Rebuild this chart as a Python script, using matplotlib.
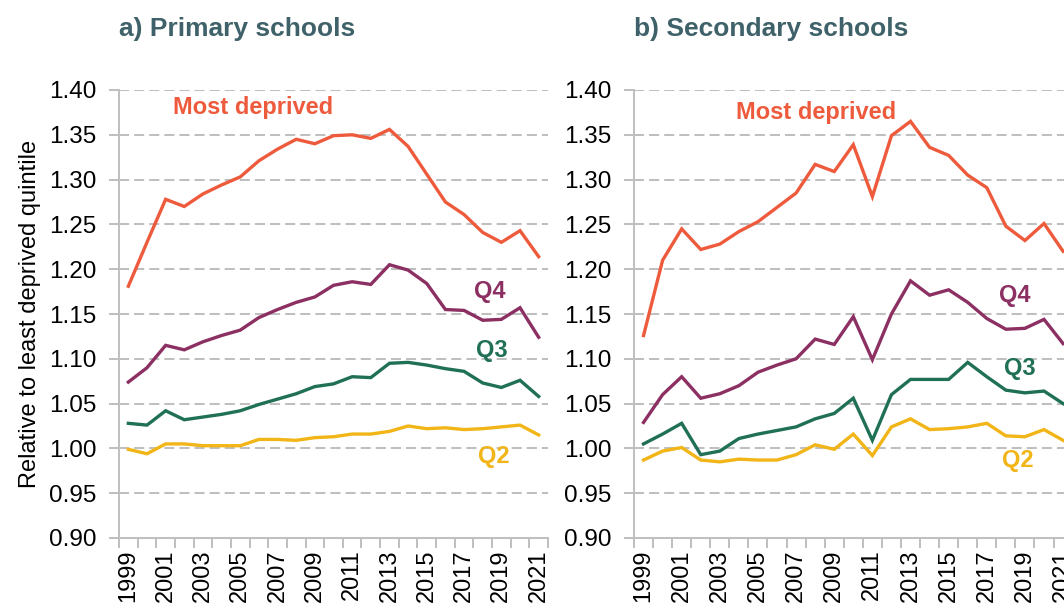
import matplotlib
matplotlib.use("Agg")
import matplotlib.pyplot as plt

plt.rcParams['font.family'] = ['Liberation Sans', 'DejaVu Sans']

years = list(range(1999, 2022))
tick_years = [str(y) for y in years if y % 2 == 1]

# a) Primary schools
prim_most = [1.181, 1.230, 1.278, 1.270, 1.284, 1.294, 1.303, 1.321, 1.334, 1.345, 1.340, 1.349,
             1.350, 1.346, 1.356, 1.337, 1.306, 1.275, 1.261, 1.241, 1.230, 1.243, 1.214]
prim_q4 = [1.074, 1.090, 1.115, 1.110, 1.119, 1.126, 1.132, 1.146, 1.155, 1.163, 1.169, 1.182,
           1.186, 1.183, 1.205, 1.199, 1.184, 1.155, 1.154, 1.143, 1.144, 1.157, 1.124]
prim_q3 = [1.028, 1.026, 1.042, 1.032, 1.035, 1.038, 1.042, 1.049, 1.055, 1.061, 1.069, 1.072,
           1.080, 1.079, 1.095, 1.096, 1.093, 1.089, 1.086, 1.073, 1.068, 1.076, 1.058]
prim_q2 = [0.999, 0.994, 1.005, 1.005, 1.003, 1.003, 1.003, 1.010, 1.010, 1.009, 1.012, 1.013,
           1.016, 1.016, 1.019, 1.025, 1.022, 1.023, 1.021, 1.022, 1.024, 1.026, 1.015]

# b) Secondary schools
sec_most = [1.126, 1.210, 1.245, 1.222, 1.228, 1.242, 1.253, 1.269, 1.285, 1.317, 1.309, 1.339,
            1.281, 1.349, 1.365, 1.336, 1.327, 1.305, 1.291, 1.248, 1.232, 1.251, 1.220]
sec_q4 = [1.029, 1.060, 1.080, 1.056, 1.061, 1.070, 1.085, 1.093, 1.100, 1.122, 1.116, 1.147,
          1.099, 1.150, 1.187, 1.171, 1.177, 1.163, 1.145, 1.133, 1.134, 1.144, 1.117]
sec_q3 = [1.005, 1.016, 1.028, 0.993, 0.997, 1.011, 1.016, 1.020, 1.024, 1.033, 1.039, 1.056,
          1.009, 1.060, 1.077, 1.077, 1.077, 1.096, 1.080, 1.065, 1.062, 1.064, 1.050]
sec_q2 = [0.987, 0.997, 1.001, 0.987, 0.985, 0.988, 0.987, 0.987, 0.993, 1.004, 0.999, 1.016,
          0.992, 1.024, 1.033, 1.021, 1.022, 1.024, 1.028, 1.014, 1.013, 1.021, 1.009]

c_most = '#EE5A3C'
c_q4 = '#8C2F62'
c_q3 = '#1F7055'
c_q2 = '#F2B517'
c_title = '#3F6169'
c_axis = '#BFBFBF'

fig = plt.figure(figsize=(10.64, 6.05), dpi=100)
ax1 = fig.add_axes([119 / 1064, 1 - 538 / 605, 429 / 1064, 448 / 605])
ax2 = fig.add_axes([634 / 1064, 1 - 538 / 605, 438.6 / 1064, 448 / 605])

panels = [
    (ax1, "a) Primary schools", [prim_most, prim_q4, prim_q3, prim_q2],
     [(6.68, 1.380), (19.4, 1.175), (19.5, 1.109), (19.6, 0.991)]),
    (ax2, "b) Secondary schools", [sec_most, sec_q4, sec_q3, sec_q2],
     [(9.04, 1.375), (19.48, 1.171), (19.74, 1.089), (19.64, 0.986)]),
]
names = ["Most deprived", "Q4", "Q3", "Q2"]
colors = [c_most, c_q4, c_q3, c_q2]

x = list(range(len(years)))
for ax, title, series, label_pos in panels:
    for vals, col in zip(series, colors):
        ax.plot(x, vals, color=col, lw=2.4, solid_joinstyle='miter')
    for name, col, (lx, ly) in zip(names, colors, label_pos):
        ax.text(lx, ly, name, color=col, fontsize=17, fontweight='bold', ha='center', va='center')

    ax.set_xlim(-0.5, len(years) - 0.5)
    ax.set_ylim(0.90, 1.40)
    ax.set_yticks([0.90 + 0.05 * i for i in range(11)])
    ax.set_yticklabels([f"{0.90 + 0.05 * i:.2f}" for i in range(11)])
    for y in [0.95 + 0.05 * i for i in range(10)]:
        ax.axhline(y, color=c_axis, lw=1.45, linestyle=(0, (5, 2.5)), zorder=0)

    # boundaries between years as major ticks, labels on odd years
    ax.set_xticks([i - 0.5 for i in range(len(years) + 1)])
    ax.set_xticklabels([])
    ax.set_xticks([i for i in x if years[i] % 2 == 1], minor=True)
    ax.set_xticklabels(tick_years, minor=True, rotation=90, fontsize=17)
    ax.tick_params(axis='x', which='major', length=7, width=1.4, color=c_axis, direction='out')
    ax.tick_params(axis='x', which='minor', length=0, pad=8)
    ax.tick_params(axis='y', length=7, width=1.4, color=c_axis, labelsize=17.5, pad=9)

    for side in ['top', 'right']:
        ax.spines[side].set_visible(False)
    for side in ['left', 'bottom']:
        ax.spines[side].set_color(c_axis)
        ax.spines[side].set_linewidth(1.4)

    ax.set_title(title, loc='left', color=c_title, fontsize=19, fontweight='bold', pad=39)

ax1.set_ylabel("Relative to least deprived quintile", fontsize=17, labelpad=6)

fig.savefig("out.png", dpi=100)
